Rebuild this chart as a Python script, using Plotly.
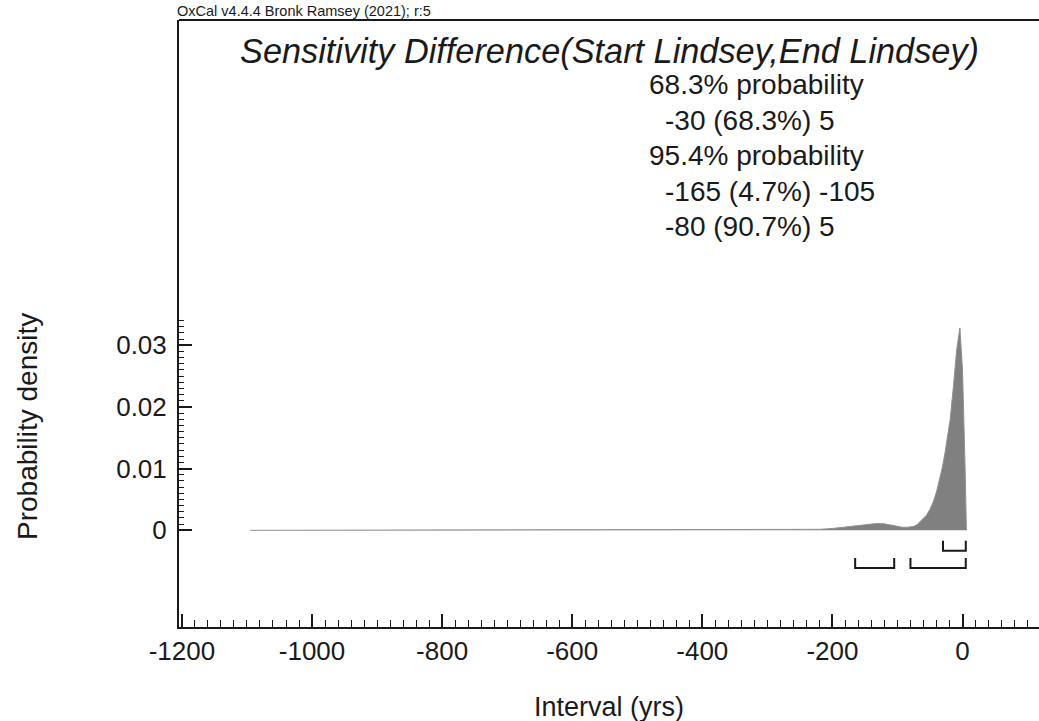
import numpy as np
import plotly.graph_objects as go

# ---- data ----
interval_yrs = [-1095, -1000, -800, -600, -400, -300, -250, -219, -200, -185, -168, -150,
                -132, -120, -111, -100, -93, -85, -76, -70, -65, -60, -55, -50, -45, -40,
                -35, -31, -27, -23, -19, -14, -9, -4, 0, 4, 6]
density = [0.0, 0.00002, 0.00003, 0.00004, 0.00006, 0.0001, 0.00012, 0.00016, 0.0003, 0.0005,
           0.0007, 0.0009, 0.0011, 0.00105, 0.0009, 0.0006, 0.0005, 0.0005, 0.0006, 0.0009,
           0.0014, 0.0019, 0.0025, 0.0034, 0.0046, 0.0062, 0.0082, 0.0102, 0.0125, 0.0151,
           0.0179, 0.0233, 0.0292, 0.0328, 0.026, 0.010, 0.0]

range_683 = [(-30, 5)]
range_954 = [(-165, -105), (-80, 5)]

title_text = "Sensitivity Difference(Start Lindsey,End Lindsey)"
summary_lines = ["68.3% probability", "-30 (68.3%) 5", "95.4% probability",
                 "-165 (4.7%) -105", "-80 (90.7%) 5"]
summary_indent = [False, True, False, True, True]
credit_text = "OxCal v4.4.4 Bronk Ramsey (2021); r:5"

x_major = [-1200, -1000, -800, -600, -400, -200, 0]
y_major = [0, 0.01, 0.02, 0.03]
y_major_labels = ["0", "0.01", "0.02", "0.03"]

# ---- figure ----
W, H = 1039, 721
ML, MR, MT, MB = 179, 0, 20, 94
FONT = "Liberation Sans, Arial, Helvetica, sans-serif"
INK = "#1a1a1a"

fig = go.Figure()
fig.add_trace(go.Scatter(
    x=interval_yrs, y=density, mode="lines", fill="tozeroy",
    fillcolor="rgb(128,128,128)", line=dict(color="#909090", width=1),
    hoverinfo="skip", showlegend=False))

def bracket_trace(ranges, level):
    xs, ys = [], []
    top = level + 0.0016
    for a, b in ranges:
        xs += [a, a, b, b, None]
        ys += [top, level, level, top, None]
    return go.Scatter(x=xs, y=ys, mode="lines", line=dict(color=INK, width=2),
                      hoverinfo="skip", showlegend=False)

fig.add_trace(bracket_trace(range_683, -0.0033))
fig.add_trace(bracket_trace(range_954, -0.0061))

y_minor = [round(v * 0.001, 4) for v in range(1, 35) if v % 10 != 0]

fig.update_layout(
    width=W, height=H, margin=dict(l=ML, r=MR, t=MT, b=MB),
    paper_bgcolor="white", plot_bgcolor="white",
    font=dict(family=FONT, color=INK),
    xaxis=dict(range=[-1204.5, 117.6], showgrid=False, zeroline=False,
               showline=True, linecolor=INK, linewidth=2,
               ticks="inside", ticklen=13, tickwidth=1.5, tickcolor=INK,
               tickmode="array", tickvals=x_major, ticktext=[str(v) for v in x_major],
               tickfont=dict(size=26, family=FONT, color=INK),
               minor=dict(dtick=20, tick0=0, ticks="inside", ticklen=7, tickwidth=1.2,
                          tickcolor=INK, showgrid=False)),
    yaxis=dict(range=[-0.01567, 0.08271], showgrid=False, zeroline=False,
               showline=True, linecolor=INK, linewidth=2,
               ticks="inside", ticklen=13, tickwidth=1.5, tickcolor=INK,
               tickmode="array", tickvals=y_major, ticktext=y_major_labels,
               tickfont=dict(size=26, family=FONT, color=INK), ticklabelstandoff=5,
               minor=dict(tickmode="array", tickvals=y_minor, ticks="inside", ticklen=5,
                          tickwidth=1, tickcolor=INK, showgrid=False)),
)

# top frame line
fig.add_shape(type="line", xref="paper", yref="paper", x0=0, x1=1, y0=1, y1=1,
              line=dict(color=INK, width=2))

plot_w = W - ML - MR
plot_h = H - MT - MB

def px_x(px):
    return (px - ML) / plot_w

def px_y(py):
    return (H - MB - py) / plot_h

# credit
fig.add_annotation(text=credit_text, xref="paper", yref="paper", x=px_x(175), y=px_y(11),
                   xanchor="left", yanchor="middle", showarrow=False,
                   font=dict(size=14.5, family="Liberation Sans Narrow, Arial Narrow, " + FONT, color=INK))
# title
fig.add_annotation(text="<i>" + title_text + "</i>", xref="paper", yref="paper",
                   x=0.5, y=px_y(51), xanchor="center", yanchor="middle", showarrow=False,
                   font=dict(size=34.3, family=FONT, color=INK))
# summary block
for i, (line, ind) in enumerate(zip(summary_lines, summary_indent)):
    fig.add_annotation(text=line, xref="paper", yref="paper",
                       x=px_x(663 if ind else 646.5), y=px_y(85 + 35.4 * i),
                       xanchor="left", yanchor="middle", showarrow=False,
                       font=dict(size=28, family=FONT, color=INK))
# axis titles
fig.add_annotation(text="Interval (yrs)", xref="paper", yref="paper", x=px_x(609), y=px_y(707),
                   xanchor="center", yanchor="middle", showarrow=False,
                   font=dict(size=27, family=FONT, color=INK))
fig.add_annotation(text="Probability density", xref="paper", yref="paper", x=px_x(27), y=px_y(427),
                   xanchor="center", yanchor="middle", showarrow=False, textangle=-90,
                   font=dict(size=28, family=FONT, color=INK))

fig.write_html("out.html")
